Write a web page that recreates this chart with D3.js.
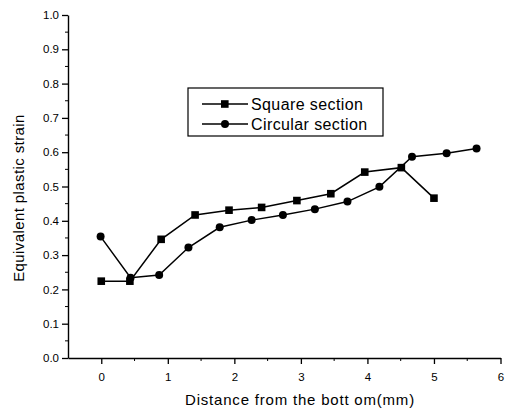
<!DOCTYPE html>
<html><head><meta charset="utf-8">
<script src="https://cdn.jsdelivr.net/npm/d3@7"></script>
<style>body{margin:0;background:#fff}svg{display:block}text{font-family:Arial,"Liberation Sans",sans-serif;fill:#000}</style>
</head><body>
<script>
const squareX = [0, 0.43, 0.9, 1.41, 1.92, 2.41, 2.94, 3.45, 3.96, 4.51, 5.0];
const squareY = [0.224, 0.224, 0.346, 0.417, 0.431, 0.439, 0.459, 0.479, 0.542, 0.555, 0.466];
const circleX = [-0.01, 0.44, 0.87, 1.31, 1.78, 2.26, 2.73, 3.21, 3.70, 4.18, 4.67, 5.19, 5.64];
const circleY = [0.354, 0.234, 0.242, 0.322, 0.381, 0.402, 0.417, 0.434, 0.456, 0.499, 0.587, 0.597, 0.611];
const xTicks = [0, 1, 2, 3, 4, 5, 6];
const yTicks = [0.0, 0.1, 0.2, 0.3, 0.4, 0.5, 0.6, 0.7, 0.8, 0.9, 1.0];
const seriesNames = ["Square section", "Circular section"];

const W = 509, H = 411;
const svg = d3.select("body").append("svg").attr("width", W).attr("height", H);
const x = d3.scaleLinear().domain([-0.5, 6]).range([68, 500.5]);
const y = d3.scaleLinear().domain([0, 1]).range([358, 15]);

// axes
const xAxis = d3.axisBottom(x).tickValues(xTicks).tickFormat(d3.format("d")).tickSize(6).tickSizeOuter(0);
const yAxis = d3.axisLeft(y).tickValues(yTicks).tickFormat(d3.format(".1f")).tickSize(6).tickSizeOuter(0);
const gx = svg.append("g").attr("transform", `translate(0,${y(0)})`).call(xAxis);
const gy = svg.append("g").attr("transform", `translate(${x(-0.5)},0)`).call(yAxis);
[gx, gy].forEach(g => {
  g.select(".domain").attr("stroke", "#000").attr("stroke-width", 1.4);
  g.selectAll(".tick line").attr("stroke", "#000").attr("stroke-width", 1.3);
  g.selectAll(".tick text").style("font-size", "11.5px").attr("fill", "#000");
});
gx.selectAll(".tick text").attr("dy", "1.2em");
gy.selectAll(".tick text").attr("x", -9);
// minor ticks
const xMinor = d3.range(0, 6, 1).map(d => d + 0.5);
svg.append("g").selectAll("line").data(xMinor).join("line")
  .attr("x1", d => x(d)).attr("x2", d => x(d)).attr("y1", y(0)).attr("y2", y(0) + 3)
  .attr("stroke", "#000").attr("stroke-width", 1);
const yMinor = d3.range(0, 10, 1).map(d => d / 10 + 0.05);
svg.append("g").selectAll("line").data(yMinor).join("line")
  .attr("x1", x(-0.5) - 3).attr("x2", x(-0.5)).attr("y1", d => y(d)).attr("y2", d => y(d))
  .attr("stroke", "#000").attr("stroke-width", 1);

// axis titles
svg.append("text").attr("x", 300).attr("y", 405).attr("text-anchor", "middle")
  .style("font-size", "15px").style("letter-spacing", "0.8px").text("Distance from the bott om(mm)");
svg.append("text").attr("transform", `translate(24,198) rotate(-90)`).attr("text-anchor", "middle")
  .style("font-size", "15px").style("letter-spacing", "0.4px").text("Equivalent plastic strain");

// series
const line = d3.line().x(d => x(d[0])).y(d => y(d[1]));
const sq = squareX.map((v, i) => [v, squareY[i]]);
const ci = circleX.map((v, i) => [v, circleY[i]]);
svg.append("path").datum(sq).attr("d", line).attr("fill", "none").attr("stroke", "#000").attr("stroke-width", 1.5);
svg.append("path").datum(ci).attr("d", line).attr("fill", "none").attr("stroke", "#000").attr("stroke-width", 1.5);
svg.append("g").selectAll("rect").data(sq).join("rect")
  .attr("x", d => x(d[0]) - 3.8).attr("y", d => y(d[1]) - 3.8).attr("width", 7.6).attr("height", 7.6).attr("fill", "#000");
svg.append("g").selectAll("circle").data(ci).join("circle")
  .attr("cx", d => x(d[0])).attr("cy", d => y(d[1])).attr("r", 4).attr("fill", "#000");

// legend
const lg = svg.append("g");
lg.append("rect").attr("x", 188).attr("y", 88).attr("width", 195).attr("height", 48)
  .attr("fill", "#fff").attr("stroke", "#000").attr("stroke-width", 1.2);
seriesNames.forEach((name, i) => {
  const ly = 104 + i * 20;
  lg.append("line").attr("x1", 202).attr("x2", 248).attr("y1", ly).attr("y2", ly).attr("stroke", "#000").attr("stroke-width", 1.5);
  if (i === 0) lg.append("rect").attr("x", 221).attr("y", ly - 3.8).attr("width", 7.6).attr("height", 7.6).attr("fill", "#000");
  else lg.append("circle").attr("cx", 225).attr("cy", ly).attr("r", 4).attr("fill", "#000");
  lg.append("text").attr("x", 251).attr("y", ly + 5.5).style("font-size", "16px").style("letter-spacing", "0.4px").text(name);
});
</script>
</body></html>
